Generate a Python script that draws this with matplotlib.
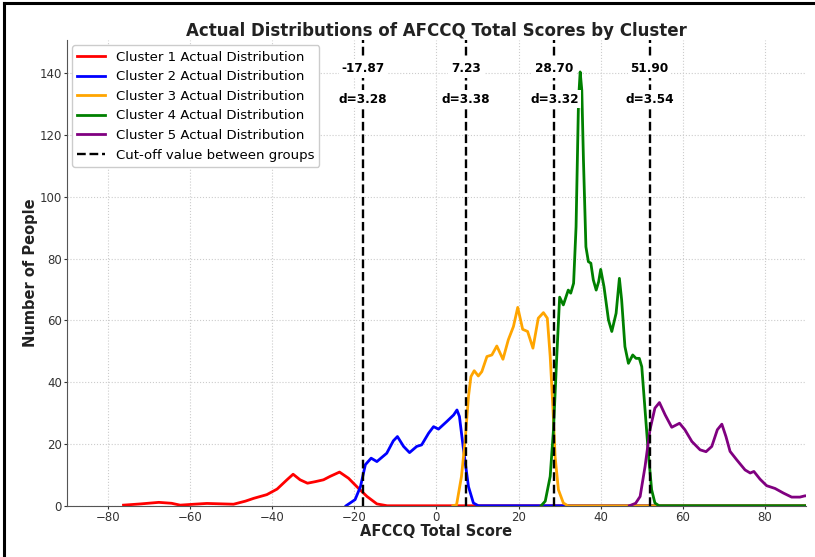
import matplotlib
matplotlib.use("Agg")
import matplotlib.pyplot as plt
from matplotlib.lines import Line2D

# values
c1_x = [-76.2, -72.0, -67.6, -64.5, -62.4, -59.0, -55.9, -49.4, -46.5, -44.5, -41.3, -38.8, -36.4, -34.9,
        -33.2, -31.4, -29.5, -27.5, -25.9, -23.6, -21.4, -19.4, -16.9, -14.5, -12.0, 92.0]
c1_y = [0.2, 0.6, 1.1, 0.8, 0.2, 0.5, 0.75, 0.5, 1.5, 2.4, 3.6, 5.4, 8.4, 10.2,
        8.4, 7.3, 7.8, 8.4, 9.5, 10.9, 8.9, 6.2, 3.0, 0.6, 0.0, 0.0]

c2_x = [-22.0, -19.8, -18.5, -17.3, -15.9, -14.5, -12.1, -10.5, -9.5, -8.0, -6.55, -4.8, -3.6, -1.9,
        -0.7, 0.5, 2.55, 4.2, 5.0, 5.6, 6.6, 7.8, 9.0, 10.2, 92.0]
c2_y = [0.0, 2.0, 6.2, 13.3, 15.4, 14.3, 17.0, 21.0, 22.4, 19.2, 17.2, 19.2, 19.7, 23.5,
        25.6, 24.8, 27.3, 29.4, 31.0, 28.9, 18.1, 6.2, 0.9, 0.0, 0.0]

c3_x = [4.0, 4.9, 6.1, 7.0, 7.8, 8.4, 9.2, 10.2, 11.05, 12.3, 13.5, 14.7, 16.2, 17.5, 18.75, 19.8,
        21.0, 22.2, 23.5, 24.8, 26.05, 27.0, 27.7, 28.35, 28.9, 29.7, 30.9, 32.0, 92.0]
c3_y = [0.0, 0.3, 9.5, 21.3, 35.3, 41.8, 43.7, 42.0, 43.4, 48.3, 48.8, 51.7, 47.4, 53.7, 58.0, 64.2,
        57.1, 56.4, 51.0, 60.7, 62.5, 60.7, 48.3, 32.1, 15.9, 5.2, 0.9, 0.0, 0.0]

c4_x = [25.5, 26.5, 27.7, 28.5, 29.3, 30.0, 30.9, 32.1, 32.7, 33.4, 34.0, 34.6, 35.0, 35.4, 35.8,
        36.4, 37.0, 37.6, 38.2, 38.9, 39.5, 40.0, 40.8, 41.9, 42.7, 43.75, 44.55, 45.1, 45.9,
        46.75, 47.8, 48.6, 49.4, 50.0, 50.8, 51.6, 52.4, 53.2, 54.2, 92.0]
c4_y = [0.0, 1.5, 9.5, 24.6, 48.3, 67.5, 65.0, 69.8, 68.8, 72.0, 90.3, 131.3, 140.4, 134.5, 111.9,
        83.8, 79.0, 78.5, 73.1, 69.8, 72.5, 76.5, 70.9, 60.1, 56.4, 62.3, 73.6, 66.6, 51.5,
        46.1, 48.8, 47.7, 47.7, 45.0, 31.0, 17.0, 5.2, 0.9, 0.0, 0.0]

c5_x = [47.0, 48.5, 49.6, 50.8, 52.0, 53.2, 54.3, 55.7, 57.3, 59.2, 60.5, 62.2, 64.2, 65.65, 67.05,
        68.4, 69.5, 70.5, 71.5, 73.1, 75.15, 76.4, 77.3, 78.8, 80.4, 82.45, 84.5, 86.5, 88.5, 89.7, 92.0]
c5_y = [0.0, 0.8, 3.0, 12.7, 24.6, 31.6, 33.4, 29.4, 25.4, 26.7, 24.6, 20.8, 18.1, 17.5, 19.2,
        24.6, 26.4, 22.4, 17.6, 14.9, 11.6, 10.6, 11.1, 8.6, 6.5, 5.6, 4.1, 2.8, 2.8, 3.2, 3.4]

cluster_x = [c1_x, c2_x, c3_x, c4_x, c5_x]
cluster_y = [c1_y, c2_y, c3_y, c4_y, c5_y]
colors = ["red", "blue", "orange", "green", "purple"]

cutoffs = [-17.87, 7.23, 28.70, 51.90]
d_values = [3.28, 3.38, 3.32, 3.54]

fig = plt.figure(figsize=(8.15, 5.57), dpi=100)
ax = fig.add_axes([0.082, 0.092, 0.907, 0.836])

for i in range(5):
    ax.plot(cluster_x[i], cluster_y[i], color=colors[i], lw=2,
            label=f"Cluster {i+1} Actual Distribution")

for j, c in enumerate(cutoffs):
    ax.axvline(c, color="black", ls="--", lw=1.7,
               label="Cut-off value between groups" if j == 0 else None)
    ax.text(c, 141.6, f"{c:.2f}", ha="center", va="center", fontsize=8.7, fontweight="bold",
            bbox=dict(facecolor="white", edgecolor="none", pad=2))
    ax.text(c, 131.6, f"d={d_values[j]:.2f}", ha="center", va="center", fontsize=8.7,
            fontweight="bold", bbox=dict(facecolor="white", edgecolor="none", pad=2))

ax.set_xlim(-90, 90)
ax.set_ylim(0, 150.7)
ax.set_xticks(range(-80, 81, 20))
ax.set_yticks(range(0, 141, 20))
ax.grid(True, ls=":", color="#cccccc", lw=0.8)
ax.set_axisbelow(True)
for s in ["top", "right"]:
    ax.spines[s].set_visible(False)
for s in ["left", "bottom"]:
    ax.spines[s].set_color("#555555")
ax.tick_params(labelsize=8.5, colors="#333333", length=2, pad=1.5)

ax.set_title("Actual Distributions of AFCCQ Total Scores by Cluster", fontsize=12,
             fontweight="bold", color="#222222", pad=3)
ax.set_xlabel("AFCCQ Total Score", fontsize=10.5, fontweight="bold", color="#222222", labelpad=0)
ax.set_ylabel("Number of People", fontsize=10.5, fontweight="bold", color="#222222", labelpad=1.5)

ax.legend(loc="upper left", fontsize=9.5, framealpha=1, edgecolor="#cccccc",
          borderaxespad=0.4, handlelength=2.1)

# frame lines at top and left of the picture
fig.add_artist(Line2D([0.005, 0.005], [0, 0.994], transform=fig.transFigure, color="black", lw=2.2))
fig.add_artist(Line2D([0.005, 1.0], [0.994, 0.994], transform=fig.transFigure, color="black", lw=2.2))

fig.savefig("out.png", dpi=100)
